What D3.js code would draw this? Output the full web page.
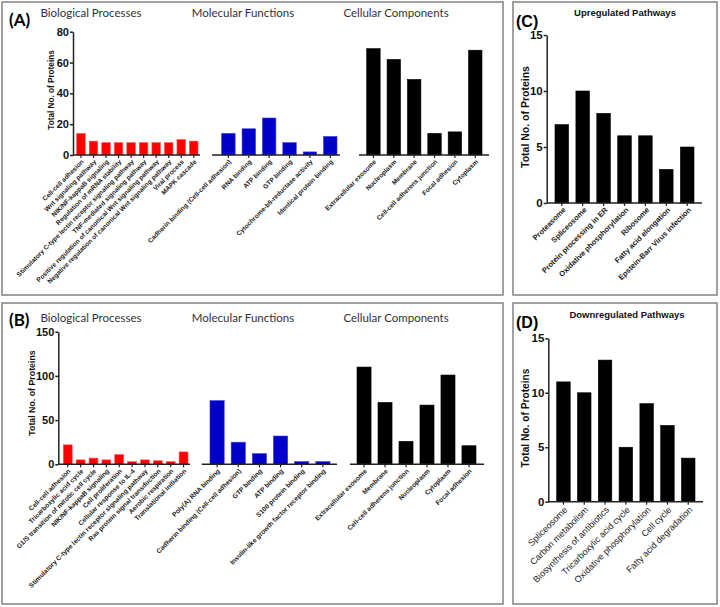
<!DOCTYPE html>
<html><head><meta charset="utf-8">
<script src="https://cdn.jsdelivr.net/npm/d3@7"></script>
<style>
body{margin:0;background:#fff;}
svg{display:block;}
</style></head>
<body><svg id="c" width="720" height="607"></svg>
<script>
// ---------- DATA ----------
const groupTitles = ["Biological Processes", "Molecular Functions", "Cellular Components"];

const aBPLabels = ["Cell-cell adhesion","Wnt signaling pathway","NIK/NF-kappaB signaling","Regulation of mRNA stability","Stimulatory C-type lectin receptor signaling pathway","TNF-mediated signaling pathway","Positive regulation of canonical Wnt signaling pathway","Negative regulation of canonical Wnt signaling pathway","Viral process","MAPK cascade"];
const aBPValues = [14, 9, 8, 8, 8, 8, 8, 8, 10, 9];
const aMFLabels = ["Cadherin binding (Cell-cell adhesion)","RNA binding","ATP binding","GTP binding","Cytochrome-b5-reductase activity","Identical protein binding"];
const aMFValues = [14, 17, 24, 8, 2, 12];
const aCCLabels = ["Extracellular exosome","Nucleoplasm","Membrane","Cell-cell adherens junction","Focal adhesion","Cytoplasm"];
const aCCValues = [69, 62, 49, 14, 15, 68];
const aTicks = [0, 20, 40, 60, 80];

const bBPLabels = ["Cell-cell adhesion","Tricarboxylic acid cycle","G1/S transition of mitotic cell cycle","NIK/NF-kappaB signaling","Cell proliferation","Cellular response to IL-4","Stimulatory C-type lectin receptor signaling pathway","Ras protein signal transduction","Aerobic respiration","Translational initiation"];
const bBPValues = [22, 5, 7, 5, 11, 3, 5, 4, 3, 14];
const bMFLabels = ["Poly(A) RNA binding","Cadherin binding (Cell-cell adhesion)","GTP binding","ATP binding","S100 protein binding","Insulin-like growth factor receptor binding"];
const bMFValues = [72, 25, 12, 32, 3, 3];
const bCCLabels = ["Extracellular exosome","Membrane","Cell-cell adherens junction","Nucleoplasm","Cytoplasm","Focal adhesion"];
const bCCValues = [110, 70, 26, 67, 101, 21];
const bTicks = [0, 50, 100, 150];

const cLabels = ["Proteasome","Spliceosome","Protein processing in ER","Oxidative phosphorylation","Ribosome","Fatty acid elongation","Epstein-Barr Virus infection"];
const cValues = [7, 10, 8, 6, 6, 3, 5];
const cTitle = "Upregulated Pathways";

const dLabels = ["Spliceosome","Carbon metabolism","Biosynthesis of antibiotics","Tricarboxylic acid cycle","Oxidative phosphorylation","Cell cycle","Fatty acid degradation"];
const dValues = [11, 10, 13, 5, 9, 7, 4];
const dTitle = "Downregulated Pathways";
const cdTicks = [0, 5, 10, 15];

const yTitle = "Total No. of Proteins";

// ---------- DRAW ----------
const svg = d3.select("#c");
const ARIAL = "Liberation Sans, Arial, sans-serif";
const TITLEF = "Lato, Open Sans, sans-serif";

// panel frames
[[2,2,501,293],[513,2,204,293],[2,303,501,301],[513,303,204,301]].forEach(r=>{
  svg.append("rect").attr("x",r[0]).attr("y",r[1]).attr("width",r[2]).attr("height",r[3])
    .attr("fill","none").attr("stroke","#8a8a8a").attr("stroke-width",1.6);
});

function yAxis(y, x, ticks, fontSize){
  const g = svg.append("g").attr("transform",`translate(${x},0)`)
    .call(d3.axisLeft(y).tickValues(ticks).tickSize(3).tickSizeOuter(0).tickPadding(1));
  g.select(".domain").attr("stroke","#222").attr("stroke-width",1.5);
  g.selectAll(".tick line").attr("stroke","#222").attr("stroke-width",1.5);
  g.selectAll("text").attr("font-family",ARIAL).attr("font-weight","bold")
    .attr("font-size",fontSize).attr("fill","#111");
}

function group(labels, values, y, base0, base1, b0, b1, pad, color, stroke, lab){
  const x = d3.scaleBand().domain(labels).range([b0, b1]).paddingInner(pad).paddingOuter(0);
  const y0 = y(0);
  svg.append("g").selectAll("rect").data(values).join("rect")
    .attr("x",(d,i)=>x(labels[i])).attr("width",x.bandwidth())
    .attr("y",d=>y(d)).attr("height",d=>y0 - y(d))
    .attr("fill",color).attr("stroke",stroke).attr("stroke-width",0.6);
  const ax = svg.append("g").attr("transform",`translate(0,${y0})`)
    .call(d3.axisBottom(x).tickSize(3).tickSizeOuter(0).tickFormat(""));
  ax.select(".domain").remove();
  ax.selectAll(".tick line").attr("stroke","#222").attr("stroke-width",1.2);
  svg.append("line").attr("x1",base0).attr("x2",base1).attr("y1",y0).attr("y2",y0)
    .attr("stroke","#222").attr("stroke-width",1.5);
  svg.append("g").selectAll("text").data(labels).join("text")
    .attr("transform",d=>`translate(${x(d)+x.bandwidth()/2+lab.dx},${y0+lab.dy}) rotate(-45)`)
    .attr("text-anchor","end").attr("dominant-baseline","middle")
    .attr("font-family",ARIAL).attr("font-weight",lab.weight).attr("font-size",lab.size)
    .attr("fill","#1a1a1a").text(d=>d);
}

function yTitleText(x, yc, size){
  svg.append("text").attr("transform",`translate(${x},${yc}) rotate(-90)`)
    .attr("text-anchor","middle").attr("font-family",ARIAL).attr("font-weight","bold")
    .attr("font-size",size).attr("fill","#111").text(yTitle);
}
function panelLetter(t, x, y, font, size){
  svg.append("text").attr("x",x).attr("y",y).attr("font-family",font).attr("font-weight","bold")
    .attr("font-size",size).attr("fill","#000").text(t);
}
function groupTitle(t, xc, y){
  svg.append("text").attr("x",xc).attr("y",y).attr("text-anchor","middle")
    .attr("font-family",TITLEF).attr("font-size",11.5).attr("fill","#333").text(t);
}

const RED="#ff0000", BLUE="#0000c8", BLK="#000000";

// ---- Panel A ----
const yA = d3.scaleLinear().domain([0,80]).range([155,31.7]);
panelLetter("(A)", 9, 26, TITLEF, 17);
groupTitle(groupTitles[0], 91, 17); groupTitle(groupTitles[1], 243, 17); groupTitle(groupTitles[2], 396, 17);
yAxis(yA, 73, aTicks, 11);
yTitleText(54, 90, 8.2);
const labA = {dx:2, dy:6, size:6.5, weight:"bold"};
group(aBPLabels, aBPValues, yA, 73, 200, 76.7, 198, 0.32, RED, "#ff5050", labA);
group(aMFLabels, aMFValues, yA, 212, 340, 221.7, 337, 0.34, BLUE, "#3838e0", labA);
group(aCCLabels, aCCValues, yA, 359, 489, 366.7, 482, 0.34, BLK, BLK, labA);

// ---- Panel B ----
const yB = d3.scaleLinear().domain([0,150]).range([464.3,331.7]);
panelLetter("(B)", 9, 326, TITLEF, 17);
groupTitle(groupTitles[0], 91, 322); groupTitle(groupTitles[1], 243, 322); groupTitle(groupTitles[2], 396, 322);
yAxis(yB, 58.3, bTicks, 11);
yTitleText(35, 393, 8.8);
const labB = {dx:2, dy:6, size:6.6, weight:"bold"};
group(bBPLabels, bBPValues, yB, 58.3, 190, 63.3, 188, 0.31, RED, "#ff5050", labB);
group(bMFLabels, bMFValues, yB, 201.7, 337, 210, 330, 0.33, BLUE, "#3838e0", labB);
group(bCCLabels, bCCValues, yB, 350, 484, 357, 476, 0.33, BLK, BLK, labB);

// ---- Panel C ----
const yC = d3.scaleLinear().domain([0,15]).range([203,35]);
panelLetter("(C)", 516, 27, ARIAL, 16);
svg.append("text").attr("x",625).attr("y",16).attr("text-anchor","middle").attr("font-family",ARIAL)
  .attr("font-weight","bold").attr("font-size",9.5).attr("fill","#111").text(cTitle);
yAxis(yC, 546.7, cdTicks, 11.5);
yTitleText(529, 117, 10.5);
group(cLabels, cValues, yC, 546.7, 702, 555, 694, 0.35, BLK, BLK, {dx:3, dy:6, size:7.5, weight:"bold"});

// ---- Panel D ----
const yD = d3.scaleLinear().domain([0,15]).range([501.7,338.3]);
panelLetter("(D)", 516, 328, ARIAL, 16);
svg.append("text").attr("x",627).attr("y",318).attr("text-anchor","middle").attr("font-family",ARIAL)
  .attr("font-weight","bold").attr("font-size",9.5).attr("fill","#111").text(dTitle);
yAxis(yD, 548.3, cdTicks, 11.5);
yTitleText(529, 418, 10.2);
group(dLabels, dValues, yD, 548.3, 703, 556.7, 695, 0.35, BLK, BLK, {dx:3, dy:7, size:9, weight:"normal"});
</script></body></html>
